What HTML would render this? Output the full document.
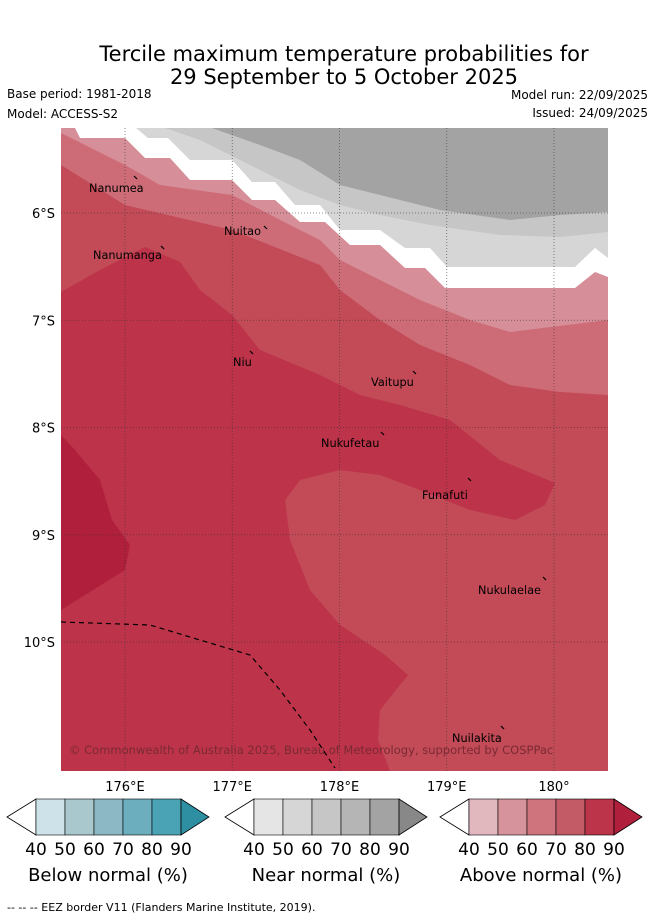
<!DOCTYPE html>
<html><head><meta charset="utf-8"><style>
body{margin:0;background:#fff;font-family:"Liberation Sans","DejaVu Sans",sans-serif;}
svg text{font-family:"DejaVu Sans","Liberation Sans",sans-serif;}
</style></head><body>
<svg id="c" width="655" height="919" xmlns="http://www.w3.org/2000/svg">
<text x="344" y="61" font-size="21" text-anchor="middle">Tercile maximum temperature probabilities for</text>
<text x="344" y="84" font-size="21" text-anchor="middle">29 September to 5 October 2025</text>
<text x="7" y="98" font-size="12">Base period: 1981-2018</text>
<text x="7" y="118" font-size="12">Model: ACCESS-S2</text>
<text x="648" y="99" font-size="12" text-anchor="end">Model run: 22/09/2025</text>
<text x="648" y="117" font-size="12" text-anchor="end">Issued: 24/09/2025</text>
<defs><clipPath id="mc"><rect x="61" y="128" width="547" height="643"/></clipPath></defs>
<g id="map" clip-path="url(#mc)"></g>
<g id="ax"></g>
<g id="cb"></g>
<text x="7" y="911" font-size="11">--  --  -- EEZ border V11 (Flanders Marine Institute, 2019).</text>
</svg>
<script>
const lonTicks=[176,177,178,179,180];
const lonLabels=["176°E","177°E","178°E","179°E","180°"];
const latTicks=[6,7,8,9,10];
const latLabels=["6°S","7°S","8°S","9°S","10°S"];
const levels=[40,50,60,70,80,90];
const cbTitles=["Below normal (%)","Near normal (%)","Above normal (%)"];
const cbColors=[["#cde3e9","#a9c8cd","#8bb8c4","#6caebd","#4aa3b4","#2e8fa3"],
["#e5e5e5","#d6d6d6","#c6c6c6","#b5b5b5","#a3a3a3","#888888"],
["#e2b8bf","#d7939b","#cf747d","#c35b67","#bc3449","#b01f3c"]];
const ns="http://www.w3.org/2000/svg";
const X=lon=>125+(lon-176)*107.25, Y=lat=>213+(lat-6)*107.25;
function mk(t,a,p){const e=document.createElementNS(ns,t);for(const k in a)e.setAttribute(k,a[k]);p.appendChild(e);return e;}
const map=document.getElementById('map');
const layers=[
["#c24b57","map-fill-above-70","61,128 608,128 608,771 61,771"],
["#bd3349","region-above-80","61,292 100,270 145,247 180,262 200,290 232,315 260,350 320,375 360,395 400,405 450,420 500,460 555,483 545,505 515,520 470,510 420,490 380,475 340,470 300,480 285,500 290,540 310,590 340,625 385,655 408,675 380,710 378,740 390,771 61,771"],
["#b01f3c","region-above-90","61,435 75,450 100,480 112,520 130,545 125,570 61,610"],
["#cd6c77","region-above-60","61,128 608,128 608,395 560,392 510,385 470,365 420,345 380,320 340,290 320,265 232,230 125,205 61,165"],
["#d68f98","region-above-50","61,128 608,128 608,320 510,332 470,320 420,300 380,280 340,260 320,240 290,225 232,195 160,185 125,165 61,133"],
["#ffffff","region-no-dominant","75,128 608,128 608,277 595,272 575,288 445,288 425,268 405,268 380,245 350,245 325,222 300,222 275,200 252,200 232,180 190,180 170,158 145,158 125,138 80,138"],
["#d6d6d6","region-near-50","136,128 608,128 608,258 595,248 575,267 447,267 430,248 405,248 380,230 340,230 320,205 295,205 275,182 252,182 232,160 190,160 168,138 148,138"],
["#c6c6c6","region-near-60","165,128 608,128 608,232 560,237 500,235 430,225 380,215 340,205 300,190 270,175 240,160 200,140"],
["#a3a3a3","region-near-80","212,128 608,128 608,212 560,215 510,220 440,210 380,195 340,185 300,160 260,145"]];
layers.forEach(l=>{const p=mk('polygon',{points:l[2],fill:l[0]},map);

});
lonTicks.forEach(v=>{const g=mk('line',{x1:X(v),x2:X(v),y1:128,y2:771,stroke:"#333","stroke-width":0.8,"stroke-dasharray":"1,2",opacity:0.7},map);

});
latTicks.forEach(v=>{const g=mk('line',{x1:61,x2:608,y1:Y(v),y2:Y(v),stroke:"#333","stroke-width":0.8,"stroke-dasharray":"1,2",opacity:0.7},map);

});
const eez=mk('polyline',{points:"61,622 150,625 200,640 250,655 280,690 310,730 335,768",fill:"none",stroke:"#000","stroke-width":1.2,"stroke-dasharray":"5,4"},map);


const islands=[["Nanumea",89,192,134,176],["Nanumanga",93,259,161,246],["Nuitao",224,235,264,226],["Niu",233,366,250,351],["Vaitupu",371,386,413,371],["Nukufetau",321,447,381,432],["Funafuti",422,499,468,478],["Nukulaelae",478,594,543,577],["Nuilakita",452,742,501,726]];
islands.forEach(d=>{const t=mk('text',{x:d[1],y:d[2],"font-size":11.3},map);t.textContent=d[0];


const m=mk('line',{x1:d[3],y1:d[4],x2:d[3]+3,y2:d[4]+3,stroke:"#000","stroke-width":1.2},map);

});
const cr=mk('text',{x:69,y:754,"font-size":11.5,fill:"#7a2a33"},map);cr.textContent="© Commonwealth of Australia 2025, Bureau of Meteorology, supported by COSPPac";


const ax=document.getElementById('ax');
lonTicks.forEach((v,i)=>{const t=mk('text',{x:X(v),y:791,"font-size":13,"text-anchor":"middle"},ax);t.textContent=lonLabels[i];

});
latTicks.forEach((v,i)=>{const t=mk('text',{x:55,y:Y(v)+5,"font-size":13,"text-anchor":"end"},ax);t.textContent=latLabels[i];

});
const cb=document.getElementById('cb');
const starts=[7,225,440];
starts.forEach((x0,b)=>{const g=mk('g',{},cb);


const y0=799,h=36,L=x0+29,w=29;
mk('polygon',{points:`${x0},${y0+h/2} ${L},${y0} ${L},${y0+h}`,fill:"#fff",stroke:"#000","stroke-width":0.8},g);
for(let i=0;i<5;i++)mk('rect',{x:L+i*w,y:y0,width:w,height:h,fill:cbColors[b][i],stroke:"#000","stroke-width":0.6},g);
const R=L+5*w;
mk('polygon',{points:`${R},${y0} ${R+28},${y0+h/2} ${R},${y0+h}`,fill:cbColors[b][5],stroke:"#000","stroke-width":0.8},g);
levels.forEach((v,i)=>{const t=mk('text',{x:L+i*w,y:855,"font-size":17,"text-anchor":"middle"},g);t.textContent=v;});
const t=mk('text',{x:L+72,y:881,"font-size":18,"text-anchor":"middle"},g);t.textContent=cbTitles[b];});
</script>
</body></html>
